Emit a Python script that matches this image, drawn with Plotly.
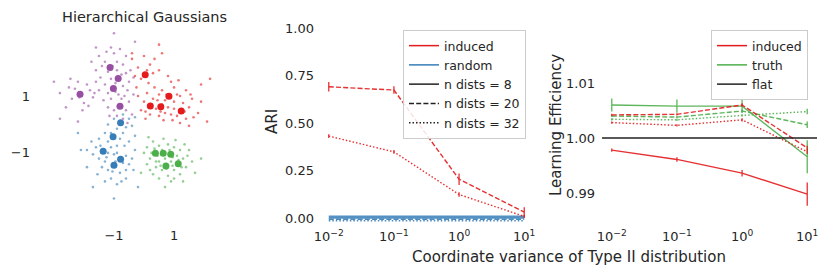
import plotly.graph_objects as go

# ---------------- data ----------------
RED, BLUE, GREEN, PURPLE = "#e41a1c", "#377eb8", "#4daf4a", "#984ea3"
TXT = "#262626"

# Panel 1: hierarchical gaussians (sub-cluster centres and samples)
purple_centres_x = [-1.13, -0.86, -1.02, -2.13, -0.80]
purple_centres_y = [2.00, 1.61, 1.26, 1.06, 0.64]
red_centres_x = [0.04, 0.83, 0.21, 0.56, 1.24]
red_centres_y = [1.74, 0.99, 0.65, 0.62, 0.47]
blue_centres_x = [-0.78, -1.03, -1.36, -0.78, -1.00]
blue_centres_y = [0.06, -0.43, -0.94, -1.22, -1.43]
green_centres_x = [0.38, 0.64, 0.89, 0.73, 1.14]
green_centres_y = [-1.01, -1.01, -1.05, -1.46, -1.38]

purple_pts = [(-1.5,2.4),(-1.0,2.5),(-1.3,2.2),(-0.9,2.2),(-1.2,1.85),(-0.7,2.1),(-1.6,1.9),(-1.1,2.7),(-0.6,2.4),(-1.4,2.05),
              (-0.6,1.8),(-0.9,1.9),(-0.5,1.5),(-1.1,1.6),(-0.7,1.35),(-0.45,1.9),(-0.95,1.45),(-0.55,1.2),
              (-1.3,1.4),(-1.2,1.1),(-0.85,1.05),(-1.5,1.2),(-1.1,0.9),(-1.35,0.85),(-0.75,0.9),
              (-2.5,1.3),(-2.2,1.5),(-1.8,1.2),(-2.4,0.9),(-2.0,0.75),(-1.7,0.95),(-2.6,0.6),(-2.3,1.25),(-1.9,1.4),(-2.8,1.1),(-2.05,0.5),(-1.6,1.5),
              (-0.6,0.5),(-1.0,0.5),(-0.5,0.8),(-0.9,0.3),(-0.4,0.35),(-1.2,0.6),(-0.7,0.2),
              (-1.0,3.2),(-3.0,1.5),(-2.8,0.2),(-1.6,2.7),(-0.3,2.9),(-2.2,0.1),
              (-1.25,2.55),(-0.8,2.65),(-1.05,2.05),(-0.75,1.75),(-1.45,1.65),(-0.35,1.65),(-1.65,1.1),(-2.45,1.6),
              (-2.15,0.95),(-1.85,0.65),(-0.95,1.15),(-0.65,1.0),(-1.15,0.3),(-0.55,0.05),(-0.35,1.05),(-1.75,2.2)]
red_pts = [(-0.2,2.0),(0.2,2.1),(-0.1,1.6),(0.3,1.8),(0.0,2.4),(0.5,1.9),(-0.3,1.7),(0.15,1.45),(-0.4,2.3),(0.6,2.5),
           (0.6,1.2),(1.0,1.3),(1.2,1.0),(0.7,0.85),(1.0,0.8),(0.5,1.05),(1.4,1.2),(0.9,1.5),(1.3,0.75),
           (0.0,0.8),(0.3,0.9),(-0.1,0.5),(0.2,0.35),(0.4,0.55),(-0.2,1.0),(0.1,1.1),(0.05,0.2),
           (0.7,0.4),(0.5,0.3),(0.8,0.6),(0.45,0.85),(0.65,0.15),(0.9,0.35),
           (1.5,0.6),(1.1,0.3),(1.4,0.2),(1.6,0.9),(1.2,0.05),(1.8,0.4),(1.0,0.55),(1.9,0.8),
           (0.5,2.8),(1.9,1.4),(2.2,1.6),(-0.4,2.5),(1.5,-0.05),(2.1,0.1),
           (0.35,1.3),(0.75,1.05),(1.1,1.05),(0.25,0.7),(0.55,0.45),(0.95,0.15),(1.35,0.45),(1.65,0.25),
           (-0.25,1.3),(0.1,1.9),(0.35,2.3),(0.8,1.7),(1.15,1.55),(0.05,0.45),(0.6,0.7),(1.55,1.05)]
blue_pts = [(-0.5,0.2),(-1.0,0.2),(-0.6,-0.1),(-0.9,-0.15),(-0.4,-0.05),(-1.2,0.0),(-0.7,0.35),(-0.3,0.25),
            (-1.3,-0.3),(-0.8,-0.5),(-1.2,-0.6),(-0.7,-0.3),(-1.5,-0.5),(-0.9,-0.75),(-0.5,-0.6),
            (-1.6,-0.8),(-1.2,-1.0),(-1.5,-1.2),(-1.7,-1.05),(-1.1,-0.8),(-1.9,-0.9),(-1.3,-1.3),(-1.0,-1.05),
            (-0.6,-1.1),(-0.5,-1.4),(-0.9,-1.0),(-0.4,-1.2),(-0.6,-1.6),(-0.3,-0.9),
            (-1.2,-1.6),(-0.8,-1.7),(-1.1,-1.9),(-1.4,-1.5),(-0.9,-2.1),(-0.6,-1.9),(-1.3,-2.0),
            (-2.1,-0.9),(-1.9,-1.5),(-1.0,-2.6),(-1.7,-2.2),(-0.2,-2.2),(-2.2,-0.3),(-0.3,-0.4),
            (-0.85,0.05),(-1.1,-0.3),(-0.65,-0.75),(-1.45,-0.75),(-1.25,-1.15),(-0.95,-1.3),(-0.7,-1.35),
            (-1.05,-1.65),(-0.75,-2.0),(-1.55,-1.75),(-0.35,-1.6),(-1.75,-0.6)]
green_pts = [(0.1,-0.8),(0.3,-0.6),(0.5,-0.75),(0.8,-0.7),(1.0,-0.8),(1.2,-0.9),(0.2,-1.2),(0.5,-1.3),(0.45,-1.1),(0.7,-1.2),
             (0.9,-1.3),(1.1,-1.1),(1.3,-1.2),(1.4,-1.5),(1.0,-1.6),(0.6,-1.6),(0.4,-1.5),(0.8,-1.8),(1.2,-1.75),(0.5,-1.9),
             (0.1,-1.4),(0.0,-1.0),(1.5,-0.9),(1.6,-1.3),(0.9,-2.0),(0.3,-1.75),(1.3,-2.0),(0.65,-0.5),(1.05,-0.55),(0.15,-0.45),
             (1.7,-1.7),(0.7,-2.2),(1.9,-1.2),(-0.1,-1.7),(1.0,-1.9),(0.35,-0.85),(0.85,-0.9),(0.55,-1.45),(1.25,-1.5),(0.95,-1.15),
             (0.25,-1.0),(0.6,-0.9),(1.15,-1.25),(0.75,-1.55),(1.45,-1.1),(0.4,-1.3),(0.95,-1.45),(1.35,-0.7),(0.2,-1.6)]

# Panels 2-3: x values
variance = [0.01, 0.1, 1, 10]
x_tick_vals = [0.01, 0.1, 1, 10]
x_tick_text = ["10<sup>−2</sup>", "10<sup>−1</sup>", "10<sup>0</sup>", "10<sup>1</sup>"]

# ARI
ari_induced_20 = [0.691, 0.674, 0.205, 0.033]
ari_induced_20_err = [0.025, 0.02, 0.03, 0.025]
ari_induced_32 = [0.432, 0.349, 0.125, 0.01]
ari_induced_32_err = [0.01, 0.01, 0.012, 0.008]
ari_random_8 = [0.006, 0.006, 0.006, 0.006]
ari_random_20 = [-0.005, -0.005, -0.005, -0.005]
ari_random_32 = [-0.013, -0.013, -0.013, -0.013]
ari_ticks = [0.0, 0.25, 0.5, 0.75, 1.0]
ari_tick_text = ["0.00", "0.25", "0.50", "0.75", "1.00"]

# Learning efficiency
le_induced_8 = [0.9978, 0.9961, 0.9936, 0.9898]
le_induced_8_err = [0.0003, 0.0004, 0.0006, 0.0021]
le_induced_20 = [1.0042, 1.0043, 1.0060, 0.9982]
le_induced_20_err = [0.0002, 0.0002, 0.0003, 0.0004]
le_induced_32 = [1.0028, 1.0023, 1.0033, 0.9975]
le_induced_32_err = [0.0002, 0.0002, 0.0003, 0.0004]
le_truth_8 = [1.0060, 1.0058, 1.0058, 0.9966]
le_truth_8_err = [0.0012, 0.0012, 0.0012, 0.0030]
le_truth_20 = [1.0040, 1.0038, 1.0049, 1.0024]
le_truth_20_err = [0.0002, 0.0002, 0.0003, 0.0006]
le_truth_32 = [1.0034, 1.0033, 1.0041, 1.0048]
le_truth_32_err = [0.0002, 0.0002, 0.0002, 0.0005]
le_flat = 1.0
le_ticks = [0.99, 1.0, 1.01]
le_tick_text = ["0.99", "1.00", "1.01"]

DASH20 = "5px,2.2px"
DASH32 = "1.5px,2px"

# ---------------- figure ----------------
W, H = 830, 277
fig = go.Figure()

def px_x(p):
    return p / W

def px_y(p):
    return 1 - p / H

# Panel 1 scatter
for pts, cx, cy, col in [(purple_pts, purple_centres_x, purple_centres_y, PURPLE),
                         (red_pts, red_centres_x, red_centres_y, RED),
                         (blue_pts, blue_centres_x, blue_centres_y, BLUE),
                         (green_pts, green_centres_x, green_centres_y, GREEN)]:
    fig.add_trace(go.Scatter(x=[p[0] for p in pts], y=[p[1] for p in pts], mode="markers",
                             marker=dict(size=2.6, color=col, opacity=0.6, line=dict(width=0)),
                             xaxis="x", yaxis="y", showlegend=False))
    fig.add_trace(go.Scatter(x=cx, y=cy, mode="markers",
                             marker=dict(size=7, color=col, line=dict(width=0)),
                             xaxis="x", yaxis="y", showlegend=False))

def line(x, y, col, dash, xa, ya, err=None, width=1.4, opacity=0.9):
    return go.Scatter(x=x, y=y, mode="lines", xaxis=xa, yaxis=ya, showlegend=False,
                      line=dict(color=col, dash=dash, width=width), opacity=opacity,
                      error_y=(dict(type="data", array=err, color=col, thickness=1.3, width=0)
                               if err is not None else None))

# Panel 2 ARI
fig.add_trace(line(variance, ari_random_8, BLUE, "solid", "x2", "y2", width=3.2, opacity=0.85))
fig.add_trace(line(variance, ari_random_20, BLUE, DASH20, "x2", "y2"))
fig.add_trace(line(variance, ari_random_32, BLUE, DASH32, "x2", "y2"))
fig.add_trace(line(variance, ari_induced_20, RED, DASH20, "x2", "y2", ari_induced_20_err))
fig.add_trace(line(variance, ari_induced_32, RED, DASH32, "x2", "y2", ari_induced_32_err))

# Panel 3 LE
fig.add_trace(line(variance, le_truth_8, GREEN, "solid", "x3", "y3", le_truth_8_err))
fig.add_trace(line(variance, le_truth_20, GREEN, DASH20, "x3", "y3", le_truth_20_err))
fig.add_trace(line(variance, le_truth_32, GREEN, DASH32, "x3", "y3", le_truth_32_err))
fig.add_trace(line(variance, le_induced_8, RED, "solid", "x3", "y3", le_induced_8_err))
fig.add_trace(line(variance, le_induced_20, RED, DASH20, "x3", "y3", le_induced_20_err))
fig.add_trace(line(variance, le_induced_32, RED, DASH32, "x3", "y3", le_induced_32_err))

fig.add_shape(type="line", xref="x3 domain", x0=0, x1=1, yref="y3", y0=le_flat, y1=le_flat,
              line=dict(color="#222222", width=1.3))

# legends (dummy entries)
def leg(name, col, dash, legend):
    return go.Scatter(x=[None], y=[None], mode="lines", name=name, legend=legend,
                      line=dict(color=col, dash=dash, width=1.5), xaxis="x2", yaxis="y2")

fig.add_trace(leg("induced", RED, "solid", "legend"))
fig.add_trace(leg("random", BLUE, "solid", "legend"))
fig.add_trace(leg("n dists = 8", "#222222", "solid", "legend"))
fig.add_trace(leg("n dists = 20", "#222222", DASH20, "legend"))
fig.add_trace(leg("n dists = 32", "#222222", DASH32, "legend"))
fig.add_trace(leg("induced", RED, "solid", "legend2"))
fig.add_trace(leg("truth", GREEN, "solid", "legend2"))
fig.add_trace(leg("flat", "#222222", "solid", "legend2"))

ax_common = dict(showgrid=False, zeroline=False, showline=False, ticks="",
                 tickfont=dict(size=13, color=TXT), automargin=False)

legend_common = dict(bgcolor="rgba(255,255,255,0.85)", bordercolor="#cccccc", borderwidth=1,
                     font=dict(size=12.5, color=TXT), xanchor="left", yanchor="top",
                     itemwidth=30, tracegroupgap=0)

fig.update_layout(
    width=W, height=H, margin=dict(l=0, r=0, t=0, b=0, pad=0),
    paper_bgcolor="white", plot_bgcolor="white",
    font=dict(family="DejaVu Sans", color=TXT, size=13),
    xaxis=dict(domain=[px_x(35), px_x(253)], range=[-3.63, 3.63], tickvals=[-1, 1],
               ticktext=["−1", "1"], anchor="y", ticklabelstandoff=1, **ax_common),
    yaxis=dict(domain=[px_y(225), px_y(27)], range=[-3.53, 3.42], tickvals=[-1, 1],
               ticktext=["−1", "1"], anchor="x", ticklabelstandoff=4, **ax_common),
    xaxis2=dict(domain=[px_x(319), px_x(534)], type="log", range=[-2.15, 1.15],
                tickvals=x_tick_vals, ticktext=x_tick_text, anchor="y2", ticklabelstandoff=3, **ax_common),
    yaxis2=dict(domain=[px_y(224), px_y(28)], range=[-0.03, 1.0], tickvals=ari_ticks,
                ticktext=ari_tick_text, anchor="x2", ticklabelstandoff=4, **ax_common),
    xaxis3=dict(domain=[px_x(602), px_x(817)], type="log", range=[-2.15, 1.15],
                tickvals=x_tick_vals, ticktext=x_tick_text, anchor="y3", ticklabelstandoff=3, **ax_common),
    yaxis3=dict(domain=[px_y(224), px_y(28)], range=[0.98436, 1.02], tickvals=le_ticks,
                ticktext=le_tick_text, anchor="x3", ticklabelstandoff=6, **ax_common),
    legend=dict(x=px_x(403), y=px_y(30), **legend_common),
    legend2=dict(x=px_x(711), y=px_y(30), **legend_common),
    showlegend=True,
    annotations=[
        dict(text="Hierarchical Gaussians", x=px_x(144), y=px_y(17), xref="paper", yref="paper",
             showarrow=False, font=dict(size=14.5, color=TXT), xanchor="center", yanchor="middle"),
        dict(text="ARI", x=px_x(272), y=px_y(122), xref="paper", yref="paper", textangle=-90,
             showarrow=False, font=dict(size=15, color=TXT), xanchor="center", yanchor="middle"),
        dict(text="Learning Efficiency", x=px_x(556), y=px_y(125), xref="paper", yref="paper", textangle=-90,
             showarrow=False, font=dict(size=15, color=TXT), xanchor="center", yanchor="middle"),
        dict(text="Coordinate variance of Type II distribution", x=px_x(569), y=px_y(257),
             xref="paper", yref="paper", showarrow=False, font=dict(size=15, color=TXT),
             xanchor="center", yanchor="middle"),
    ],
)

fig.write_html("out.html", config={"displayModeBar": False},
               post_script="document.body.style.margin='0';")
